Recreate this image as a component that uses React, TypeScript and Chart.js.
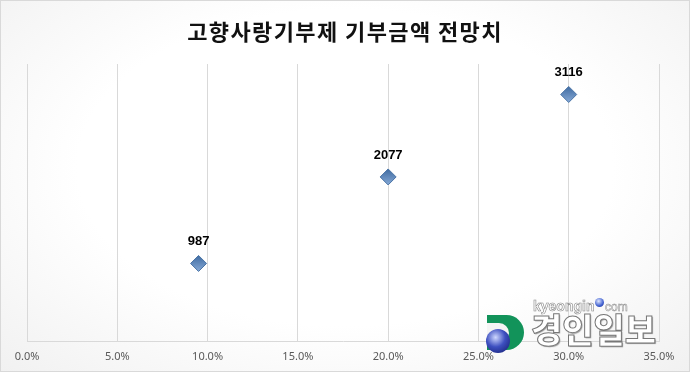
import React, { useEffect, useRef } from "react";
import { Chart, registerables } from "chart.js";

Chart.register(...registerables);

const TITLE = "고향사랑기부제 기부금액 전망치";
const rates = [0.095, 0.2, 0.3];
const amounts = [987, 2077, 3116];
const X_MIN = 0;
const X_MAX = 0.35;
const X_STEP = 0.05;
const Y_MIN = 0;
const Y_MAX = 3500;

const labelPlugin = {
  id: "pointLabels",
  afterDatasetsDraw(chart: any) {
    const ctx = chart.ctx;
    const meta = chart.getDatasetMeta(0);
    ctx.save();
    ctx.font = "bold 13px 'Liberation Sans', Arial, sans-serif";
    ctx.fillStyle = "#000";
    ctx.textAlign = "center";
    ctx.textBaseline = "middle";
    meta.data.forEach((el: any, i: number) => {
      ctx.fillText(String(amounts[i]), el.x, el.y - 22);
    });
    ctx.restore();
  },
};

export default function App() {
  const ref = useRef<HTMLCanvasElement | null>(null);

  useEffect(() => {
    document.body.style.margin = "0";
    const canvas = ref.current!;
    const chart = new Chart(canvas, {
      type: "scatter",
      data: {
        datasets: [
          {
            data: rates.map((r, i) => ({ x: r, y: amounts[i] })),
            pointStyle: "rectRot",
            pointRadius: 8,
            pointHoverRadius: 8,
            borderWidth: 1,
            borderColor: "#4a74a6",
            backgroundColor: (c: any) => {
              const chartObj = c.chart;
              const el = c.element;
              if (!chartObj.chartArea || !el || el.y === undefined) return "#5b84b8";
              const g = chartObj.ctx.createLinearGradient(0, el.y - 8, 0, el.y + 8);
              g.addColorStop(0, "#3f6ba1");
              g.addColorStop(1, "#86a9d6");
              return g;
            },
          },
        ],
      },
      options: {
        animation: false,
        responsive: false,
        maintainAspectRatio: false,
        layout: { padding: { left: 26, right: 30, top: 63, bottom: 0 } },
        plugins: {
          legend: { display: false },
          tooltip: { enabled: false },
          title: { display: false },
        },
        scales: {
          x: {
            type: "linear",
            min: X_MIN,
            max: X_MAX,
            ticks: {
              stepSize: X_STEP,
              padding: 8,
              color: "#595959",
              font: { size: 11, family: "'Noto Sans', 'Liberation Sans', sans-serif" },
              callback: (v: any) => (Number(v) * 100).toFixed(1) + "%",
            },
            grid: { color: "#d9d9d9", drawTicks: false, lineWidth: 1 },
            border: { color: "#d9d9d9" },
          },
          y: {
            min: Y_MIN,
            max: Y_MAX,
            display: false,
          },
        },
      },
      plugins: [labelPlugin],
    } as any);
    return () => chart.destroy();
  }, []);

  return (
    <div
      style={{
        position: "relative",
        width: 690,
        height: 372,
        boxSizing: "border-box",
        border: "1px solid #d9d9d9",
        background: "radial-gradient(ellipse at 50% 45%, #ffffff 55%, #f1f1f1 100%)",
        overflow: "hidden",
      }}
    >
      <canvas ref={ref} width={688} height={370} style={{ position: "absolute", left: 0, top: 0 }} />
      <div
        style={{
          position: "absolute",
          left: 0,
          top: 14,
          width: 688,
          textAlign: "center",
          fontFamily: "'Noto Sans CJK KR', sans-serif",
          fontWeight: 700,
          fontSize: 22,
          letterSpacing: 1.4,
          color: "#111",
          lineHeight: "30px",
        }}
      >
        {TITLE}
      </div>
      {/* watermark */}
      <div style={{ position: "absolute", left: 486, top: 314, width: 37, height: 35, borderRadius: "0 18px 18px 0", background: "#12935a" }} />
      <div style={{ position: "absolute", left: 486, top: 322, width: 22, height: 20, borderRadius: "0 10px 10px 0", background: "#f4f4f4" }} />
      <div
        style={{
          position: "absolute",
          left: 485,
          top: 328,
          width: 24,
          height: 24,
          borderRadius: "50%",
          background: "radial-gradient(circle at 40% 35%, #cfd8ff 0%, #3d4fc0 45%, #111a6a 100%)",
        }}
      />
      <div
        style={{
          position: "absolute",
          left: 532,
          top: 297,
          fontFamily: "'Liberation Sans', Arial, sans-serif",
          fontSize: 14,
          fontWeight: 700,
          color: "#fff",
          WebkitTextStroke: "0.6px #888",
          lineHeight: "16px",
        }}
      >
        kyeongin
      </div>
      <div
        style={{
          position: "absolute",
          left: 594,
          top: 297,
          width: 9,
          height: 9,
          borderRadius: "50%",
          background: "radial-gradient(circle at 40% 35%, #e0e8ff 0%, #4060d0 60%, #1a2a80 100%)",
        }}
      />
      <div
        style={{
          position: "absolute",
          left: 604,
          top: 298,
          fontFamily: "'Liberation Sans', Arial, sans-serif",
          fontSize: 12,
          color: "#fff",
          WebkitTextStroke: "0.5px #888",
          lineHeight: "16px",
        }}
      >
        com
      </div>
      <div
        style={{
          position: "absolute",
          left: 530,
          top: 308,
          fontFamily: "'Noto Sans CJK KR', sans-serif",
          fontSize: 34,
          fontWeight: 900,
          color: "#fff",
          WebkitTextStroke: "1px #777",
          textShadow: "1px 1px 1px #999",
          lineHeight: "40px",
          letterSpacing: 0,
        }}
      >
        경인일보
      </div>
    </div>
  );
}
